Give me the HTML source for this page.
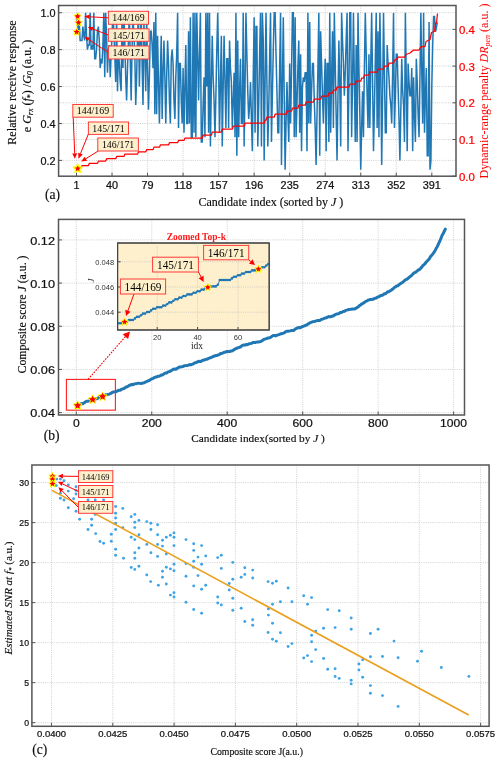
<!DOCTYPE html>
<html><head><meta charset="utf-8"><style>
html,body{margin:0;padding:0;background:#fff;}
svg{display:block;will-change:transform;}
</style></head><body>
<svg width="500" height="763" viewBox="0 0 500 763">
<rect width="500" height="763" fill="#fff"/>
<rect x="58.6" y="5.5" width="397.4" height="170.7" fill="#ffffff"/>
<line x1="58.60" y1="12.72" x2="456.00" y2="12.72" stroke="#c4c4c4" stroke-width="0.8" stroke-dasharray="1,1.2"/>
<line x1="58.60" y1="49.64" x2="456.00" y2="49.64" stroke="#c4c4c4" stroke-width="0.8" stroke-dasharray="1,1.2"/>
<line x1="58.60" y1="86.56" x2="456.00" y2="86.56" stroke="#c4c4c4" stroke-width="0.8" stroke-dasharray="1,1.2"/>
<line x1="58.60" y1="123.48" x2="456.00" y2="123.48" stroke="#c4c4c4" stroke-width="0.8" stroke-dasharray="1,1.2"/>
<line x1="58.60" y1="160.40" x2="456.00" y2="160.40" stroke="#c4c4c4" stroke-width="0.8" stroke-dasharray="1,1.2"/>
<line x1="58.60" y1="139.50" x2="456.00" y2="139.50" stroke="#c4c4c4" stroke-width="0.8" stroke-dasharray="1,1.2"/>
<line x1="58.60" y1="102.80" x2="456.00" y2="102.80" stroke="#c4c4c4" stroke-width="0.8" stroke-dasharray="1,1.2"/>
<line x1="58.60" y1="66.10" x2="456.00" y2="66.10" stroke="#c4c4c4" stroke-width="0.8" stroke-dasharray="1,1.2"/>
<line x1="58.60" y1="29.40" x2="456.00" y2="29.40" stroke="#c4c4c4" stroke-width="0.8" stroke-dasharray="1,1.2"/>
<line x1="76.50" y1="5.50" x2="76.50" y2="176.20" stroke="#c4c4c4" stroke-width="0.8" stroke-dasharray="1,1.2"/>
<line x1="112.03" y1="5.50" x2="112.03" y2="176.20" stroke="#c4c4c4" stroke-width="0.8" stroke-dasharray="1,1.2"/>
<line x1="147.56" y1="5.50" x2="147.56" y2="176.20" stroke="#c4c4c4" stroke-width="0.8" stroke-dasharray="1,1.2"/>
<line x1="183.09" y1="5.50" x2="183.09" y2="176.20" stroke="#c4c4c4" stroke-width="0.8" stroke-dasharray="1,1.2"/>
<line x1="218.62" y1="5.50" x2="218.62" y2="176.20" stroke="#c4c4c4" stroke-width="0.8" stroke-dasharray="1,1.2"/>
<line x1="254.15" y1="5.50" x2="254.15" y2="176.20" stroke="#c4c4c4" stroke-width="0.8" stroke-dasharray="1,1.2"/>
<line x1="289.68" y1="5.50" x2="289.68" y2="176.20" stroke="#c4c4c4" stroke-width="0.8" stroke-dasharray="1,1.2"/>
<line x1="325.21" y1="5.50" x2="325.21" y2="176.20" stroke="#c4c4c4" stroke-width="0.8" stroke-dasharray="1,1.2"/>
<line x1="360.74" y1="5.50" x2="360.74" y2="176.20" stroke="#c4c4c4" stroke-width="0.8" stroke-dasharray="1,1.2"/>
<line x1="396.27" y1="5.50" x2="396.27" y2="176.20" stroke="#c4c4c4" stroke-width="0.8" stroke-dasharray="1,1.2"/>
<line x1="431.80" y1="5.50" x2="431.80" y2="176.20" stroke="#c4c4c4" stroke-width="0.8" stroke-dasharray="1,1.2"/>
<polyline points="76.50,16.41 77.41,21.95 78.32,31.18 79.23,21.95 80.14,40.41 81.06,40.41 81.97,40.41 82.88,26.56 83.79,35.80 84.70,40.41 85.61,12.72 86.52,35.80 87.43,49.64 88.34,45.03 89.25,45.03 90.17,12.72 91.08,49.64 91.99,45.03 92.90,49.64 93.81,12.72 94.72,58.87 95.63,58.87 96.54,49.64 97.45,31.18 98.36,26.56 99.28,40.41 100.19,68.10 101.10,58.87 102.01,63.48 102.92,45.03 103.83,12.72 104.74,77.33 105.65,12.72 106.56,35.80 107.47,72.72 108.39,49.64 109.30,45.03 110.21,77.33 111.12,54.26 112.03,35.80 112.94,12.72 113.85,31.18 114.76,54.26 115.67,81.95 116.59,12.72 117.50,91.17 118.41,49.64 119.32,63.48 120.23,81.95 121.14,91.17 122.05,12.72 122.96,68.10 123.87,12.72 124.78,40.41 125.70,77.33 126.61,100.41 127.52,68.10 128.43,40.41 129.34,12.72 130.25,58.87 131.16,100.41 132.07,49.64 132.98,12.72 133.89,35.80 134.81,54.26 135.72,105.02 136.63,77.33 137.54,35.80 138.45,12.72 139.36,86.56 140.27,45.03 141.18,12.72 142.09,63.48 143.00,105.02 143.92,21.95 144.83,49.64 145.74,91.17 146.65,17.33 147.56,68.10 148.47,109.64 149.38,77.33 150.29,31.18 151.20,31.18 152.12,45.03 153.03,68.10 153.94,21.95 154.85,114.25 155.76,12.72 156.67,114.25 157.58,35.80 158.49,81.95 159.40,123.48 160.31,77.33 161.23,35.80 162.14,118.87 163.05,72.72 163.96,40.41 164.87,77.33 165.78,123.48 166.69,77.33 167.60,40.41 168.51,63.48 169.42,100.41 170.34,123.48 171.25,58.87 172.16,49.64 173.07,63.48 173.98,100.41 174.89,118.87 175.80,77.33 176.71,54.26 177.62,12.72 178.53,128.09 179.45,63.48 180.36,63.48 181.27,100.41 182.18,123.48 183.09,68.10 184.00,132.71 184.91,86.56 185.82,45.03 186.73,123.48 187.65,123.48 188.56,31.18 189.47,123.48 190.38,17.33 191.29,137.32 192.20,137.32 193.11,12.72 194.02,132.71 194.93,12.72 195.84,137.32 196.76,12.72 197.67,54.26 198.58,100.41 199.49,54.26 200.40,12.72 201.31,141.94 202.22,141.94 203.13,105.02 204.04,77.33 204.95,137.32 205.87,12.72 206.78,86.56 207.69,12.72 208.60,132.71 209.51,12.72 210.42,146.56 211.33,86.56 212.24,35.80 213.15,77.33 214.06,100.41 214.98,137.32 215.89,95.79 216.80,49.64 217.71,12.72 218.62,68.10 219.53,132.71 220.44,81.95 221.35,35.80 222.26,146.56 223.18,86.56 224.09,35.80 225.00,81.95 225.91,128.09 226.82,58.87 227.73,58.87 228.64,128.09 229.55,40.41 230.46,68.10 231.37,81.95 232.29,128.09 233.20,100.41 234.11,72.72 235.02,137.32 235.93,12.72 236.84,155.78 237.75,40.41 238.66,137.32 239.57,91.17 240.48,58.87 241.40,123.48 242.31,123.48 243.22,12.72 244.13,146.56 245.04,86.56 245.95,12.72 246.86,54.26 247.77,91.17 248.68,118.87 249.59,105.02 250.51,81.95 251.42,118.87 252.33,151.17 253.24,77.33 254.15,17.33 255.06,132.71 255.97,26.56 256.88,26.56 257.79,146.56 258.71,105.02 259.62,54.26 260.53,12.72 261.44,146.56 262.35,12.72 263.26,40.41 264.17,160.40 265.08,81.95 265.99,12.72 266.90,81.95 267.82,146.56 268.73,109.64 269.64,58.87 270.55,12.72 271.46,141.94 272.37,95.79 273.28,49.64 274.19,12.72 275.10,12.72 276.01,54.26 276.93,91.17 277.84,132.71 278.75,132.71 279.66,68.10 280.57,12.72 281.48,165.02 282.39,86.56 283.30,17.33 284.21,95.79 285.12,169.63 286.04,123.48 286.95,81.95 287.86,114.25 288.77,141.94 289.68,63.48 290.59,123.48 291.50,72.72 292.41,12.72 293.32,12.72 294.24,137.32 295.15,17.33 296.06,137.32 296.97,105.02 297.88,68.10 298.79,40.41 299.70,132.71 300.61,54.26 301.52,151.17 302.43,86.56 303.35,77.33 304.26,81.95 305.17,72.72 306.08,72.72 306.99,151.17 307.90,12.72 308.81,123.48 309.72,21.95 310.63,123.48 311.54,91.17 312.46,63.48 313.37,63.48 314.28,100.41 315.19,128.09 316.10,165.02 317.01,114.25 317.92,68.10 318.83,12.72 319.74,155.78 320.65,31.18 321.57,63.48 322.48,95.79 323.39,123.48 324.30,86.56 325.21,58.87 326.12,151.17 327.03,63.48 327.94,63.48 328.85,141.94 329.77,12.72 330.68,132.71 331.59,77.33 332.50,31.18 333.41,128.09 334.32,12.72 335.23,63.48 336.14,114.25 337.05,160.40 337.96,95.79 338.88,40.41 339.79,86.56 340.70,146.56 341.61,12.72 342.52,40.41 343.43,63.48 344.34,95.79 345.25,72.72 346.16,40.41 347.07,12.72 347.99,151.17 348.90,86.56 349.81,12.72 350.72,12.72 351.63,137.32 352.54,81.95 353.45,12.72 354.36,81.95 355.27,141.94 356.18,45.03 357.10,141.94 358.01,12.72 358.92,68.10 359.83,114.25 360.74,169.63 361.65,128.09 362.56,91.17 363.47,137.32 364.38,68.10 365.30,12.72 366.21,54.26 367.12,95.79 368.03,128.09 368.94,54.26 369.85,128.09 370.76,63.48 371.67,12.72 372.58,81.95 373.49,151.17 374.41,109.64 375.32,58.87 376.23,12.72 377.14,128.09 378.05,31.18 378.96,137.32 379.87,12.72 380.78,68.10 381.69,165.02 382.60,95.79 383.52,12.72 384.43,72.72 385.34,132.71 386.25,132.71 387.16,45.03 388.07,63.48 388.98,77.33 389.89,95.79 390.80,105.02 391.71,123.48 392.63,72.72 393.54,12.72 394.45,128.09 395.36,95.79 396.27,54.26 397.18,54.26 398.09,86.56 399.00,118.87 399.91,160.40 400.83,109.64 401.74,58.87 402.65,91.17 403.56,105.02 404.47,141.94 405.38,12.72 406.29,81.95 407.20,151.17 408.11,63.48 409.02,81.95 409.94,95.79 410.85,95.79 411.76,68.10 412.67,151.17 413.58,77.33 414.49,114.25 415.40,141.94 416.31,58.87 417.22,81.95 418.13,114.25 419.05,137.32 419.96,77.33 420.87,12.72 421.78,72.72 422.69,123.48 423.60,12.72 424.51,132.71 425.42,95.79 426.33,68.10 427.24,155.78 428.16,155.78 429.07,21.95 429.98,169.63 430.89,160.40 431.80,86.56 432.71,43.55 433.62,16.41 434.53,16.41 435.44,31.92 436.36,27.49 437.27,22.50" fill="none" stroke="#1f77b4" stroke-width="1.5" stroke-linejoin="miter" stroke-miterlimit="2"/>
<polyline points="77.50,167.90 78.41,167.90 79.32,167.90 80.23,167.90 81.14,167.90 82.06,165.60 82.97,165.60 83.88,165.60 84.79,165.60 85.70,165.60 86.61,165.60 87.52,165.60 88.43,165.60 89.34,163.30 90.25,163.30 91.17,163.30 92.08,163.30 92.99,163.30 93.90,163.30 94.81,163.30 95.72,163.30 96.63,163.30 97.54,163.30 98.45,161.00 99.36,161.00 100.28,161.00 101.19,161.00 102.10,161.00 103.01,161.00 103.92,161.00 104.83,161.00 105.74,161.00 106.65,158.70 107.56,158.70 108.47,158.70 109.39,158.70 110.30,158.70 111.21,158.70 112.12,158.70 113.03,158.70 113.94,158.70 114.85,158.70 115.76,158.70 116.67,156.40 117.58,156.40 118.50,156.40 119.41,156.40 120.32,156.40 121.23,156.40 122.14,156.40 123.05,156.40 123.96,156.40 124.87,154.10 125.78,154.10 126.69,154.10 127.61,154.10 128.52,154.10 129.43,154.10 130.34,154.10 131.25,154.10 132.16,154.10 133.07,154.10 133.98,154.10 134.89,154.10 135.80,154.10 136.72,154.10 137.63,154.10 138.54,151.80 139.45,151.80 140.36,151.80 141.27,151.80 142.18,151.80 143.09,151.80 144.00,151.80 144.91,151.80 145.82,151.80 146.74,149.50 147.65,149.50 148.56,149.50 149.47,149.50 150.38,149.50 151.29,149.50 152.20,149.50 153.11,149.50 154.02,147.20 154.94,147.20 155.85,147.20 156.76,147.20 157.67,147.20 158.58,147.20 159.49,147.20 160.40,144.90 161.31,144.90 162.22,144.90 163.13,144.90 164.05,144.90 164.96,144.90 165.87,144.90 166.78,144.90 167.69,144.90 168.60,144.90 169.51,142.60 170.42,142.60 171.33,142.60 172.24,142.60 173.16,142.60 174.07,142.60 174.98,142.60 175.89,142.60 176.80,142.60 177.71,142.60 178.62,140.30 179.53,140.30 180.44,140.30 181.35,140.30 182.26,140.30 183.18,140.30 184.09,140.30 185.00,138.00 185.91,138.00 186.82,138.00 187.73,138.00 188.64,138.00 189.55,138.00 190.46,138.00 191.38,138.00 192.29,138.00 193.20,138.00 194.11,138.00 195.02,138.00 195.93,138.00 196.84,138.00 197.75,138.00 198.66,138.00 199.57,138.00 200.49,138.00 201.40,138.00 202.31,138.00 203.22,135.00 204.13,135.00 205.04,135.00 205.95,135.00 206.86,135.00 207.77,135.00 208.68,135.00 209.59,135.00 210.51,135.00 211.42,135.00 212.33,132.00 213.24,132.00 214.15,132.00 215.06,132.00 215.97,132.00 216.88,132.00 217.79,132.00 218.71,132.00 219.62,132.00 220.53,132.00 221.44,132.00 222.35,129.00 223.26,129.00 224.17,129.00 225.08,129.00 225.99,129.00 226.90,129.00 227.81,129.00 228.73,129.00 229.64,129.00 230.55,129.00 231.46,129.00 232.37,129.00 233.28,126.00 234.19,126.00 235.10,126.00 236.01,126.00 236.93,126.00 237.84,126.00 238.75,126.00 239.66,126.00 240.57,126.00 241.48,126.00 242.39,126.00 243.30,126.00 244.21,126.00 245.12,123.00 246.03,123.00 246.95,123.00 247.86,123.00 248.77,123.00 249.68,123.00 250.59,123.00 251.50,123.00 252.41,123.00 253.32,123.00 254.23,123.00 255.15,123.00 256.06,123.00 256.97,123.00 257.88,123.00 258.79,123.00 259.70,123.00 260.61,123.00 261.52,123.00 262.43,123.00 263.34,123.00 264.25,123.00 265.17,120.00 266.08,120.00 266.99,117.00 267.90,117.00 268.81,117.00 269.72,117.00 270.63,117.00 271.54,117.00 272.45,117.00 273.37,117.00 274.28,117.00 275.19,114.00 276.10,114.00 277.01,114.00 277.92,114.00 278.83,114.00 279.74,114.00 280.65,114.00 281.56,114.00 282.48,114.00 283.39,114.00 284.30,114.00 285.21,114.00 286.12,114.00 287.03,111.00 287.94,111.00 288.85,111.00 289.76,111.00 290.67,111.00 291.59,111.00 292.50,108.00 293.41,108.00 294.32,108.00 295.23,108.00 296.14,108.00 297.05,108.00 297.96,108.00 298.87,105.00 299.78,105.00 300.70,105.00 301.61,105.00 302.52,105.00 303.43,105.00 304.34,105.00 305.25,105.00 306.16,102.00 307.07,102.00 307.98,102.00 308.89,102.00 309.81,102.00 310.72,102.00 311.63,102.00 312.54,102.00 313.45,102.00 314.36,99.00 315.27,99.00 316.18,99.00 317.09,99.00 318.00,99.00 318.92,99.00 319.83,99.00 320.74,99.00 321.65,96.00 322.56,96.00 323.47,96.00 324.38,96.00 325.29,96.00 326.20,96.00 327.11,96.00 328.02,96.00 328.94,93.00 329.85,93.00 330.76,93.00 331.67,93.00 332.58,93.00 333.49,90.00 334.40,90.00 335.31,90.00 336.22,90.00 337.13,87.00 338.05,87.00 338.96,87.00 339.87,87.00 340.78,87.00 341.69,87.00 342.60,87.00 343.51,87.00 344.42,87.00 345.33,87.00 346.25,87.00 347.16,87.00 348.07,87.00 348.98,87.00 349.89,84.00 350.80,84.00 351.71,84.00 352.62,84.00 353.53,84.00 354.44,84.00 355.36,84.00 356.27,81.00 357.18,81.00 358.09,81.00 359.00,81.00 359.91,81.00 360.82,81.00 361.73,78.00 362.64,78.00 363.55,78.00 364.47,75.00 365.38,75.00 366.29,75.00 367.20,75.00 368.11,75.00 369.02,75.00 369.93,72.00 370.84,72.00 371.75,72.00 372.66,72.00 373.57,72.00 374.49,72.00 375.40,72.00 376.31,72.00 377.22,72.00 378.13,69.00 379.04,69.00 379.95,69.00 380.86,69.00 381.77,69.00 382.69,69.00 383.60,69.00 384.51,66.00 385.42,66.00 386.33,66.00 387.24,66.00 388.15,66.00 389.06,63.00 389.97,63.00 390.88,63.00 391.80,63.00 392.71,63.00 393.62,63.00 394.53,60.00 395.44,60.00 398.50,57.00 405.00,57.00 406.00,54.50 410.00,53.00 413.50,50.00 419.00,50.00 421.00,46.50 425.00,46.50 426.00,41.50 430.00,39.50 431.50,32.50 434.50,31.20 435.50,23.00 436.50,23.00 437.50,13.50" fill="none" stroke="#ff0000" stroke-width="1.25" stroke-linejoin="round"/>
<rect x="58.60" y="5.50" width="397.40" height="170.70" fill="none" stroke="#555555" stroke-width="1.5"/>
<line x1="58.60" y1="12.72" x2="62.10" y2="12.72" stroke="#555555" stroke-width="1.0"/>
<line x1="58.60" y1="49.64" x2="62.10" y2="49.64" stroke="#555555" stroke-width="1.0"/>
<line x1="58.60" y1="86.56" x2="62.10" y2="86.56" stroke="#555555" stroke-width="1.0"/>
<line x1="58.60" y1="123.48" x2="62.10" y2="123.48" stroke="#555555" stroke-width="1.0"/>
<line x1="58.60" y1="160.40" x2="62.10" y2="160.40" stroke="#555555" stroke-width="1.0"/>
<line x1="452.50" y1="176.20" x2="456.00" y2="176.20" stroke="#555555" stroke-width="1.0"/>
<line x1="452.50" y1="139.50" x2="456.00" y2="139.50" stroke="#555555" stroke-width="1.0"/>
<line x1="452.50" y1="102.80" x2="456.00" y2="102.80" stroke="#555555" stroke-width="1.0"/>
<line x1="452.50" y1="66.10" x2="456.00" y2="66.10" stroke="#555555" stroke-width="1.0"/>
<line x1="452.50" y1="29.40" x2="456.00" y2="29.40" stroke="#555555" stroke-width="1.0"/>
<line x1="76.50" y1="176.20" x2="76.50" y2="172.70" stroke="#555555" stroke-width="1.0"/>
<line x1="112.03" y1="176.20" x2="112.03" y2="172.70" stroke="#555555" stroke-width="1.0"/>
<line x1="147.56" y1="176.20" x2="147.56" y2="172.70" stroke="#555555" stroke-width="1.0"/>
<line x1="183.09" y1="176.20" x2="183.09" y2="172.70" stroke="#555555" stroke-width="1.0"/>
<line x1="218.62" y1="176.20" x2="218.62" y2="172.70" stroke="#555555" stroke-width="1.0"/>
<line x1="254.15" y1="176.20" x2="254.15" y2="172.70" stroke="#555555" stroke-width="1.0"/>
<line x1="289.68" y1="176.20" x2="289.68" y2="172.70" stroke="#555555" stroke-width="1.0"/>
<line x1="325.21" y1="176.20" x2="325.21" y2="172.70" stroke="#555555" stroke-width="1.0"/>
<line x1="360.74" y1="176.20" x2="360.74" y2="172.70" stroke="#555555" stroke-width="1.0"/>
<line x1="396.27" y1="176.20" x2="396.27" y2="172.70" stroke="#555555" stroke-width="1.0"/>
<line x1="431.80" y1="176.20" x2="431.80" y2="172.70" stroke="#555555" stroke-width="1.0"/>
<text x="55.60" y="17.07" font-size="10" text-anchor="end" fill="#111111" stroke="#111111" stroke-width="0.22" font-family='"Liberation Sans", sans-serif' textLength="15.10" lengthAdjust="spacingAndGlyphs" >1.0</text>
<text x="55.60" y="53.99" font-size="10" text-anchor="end" fill="#111111" stroke="#111111" stroke-width="0.22" font-family='"Liberation Sans", sans-serif' textLength="15.10" lengthAdjust="spacingAndGlyphs" >0.8</text>
<text x="55.60" y="90.91" font-size="10" text-anchor="end" fill="#111111" stroke="#111111" stroke-width="0.22" font-family='"Liberation Sans", sans-serif' textLength="15.10" lengthAdjust="spacingAndGlyphs" >0.6</text>
<text x="55.60" y="127.83" font-size="10" text-anchor="end" fill="#111111" stroke="#111111" stroke-width="0.22" font-family='"Liberation Sans", sans-serif' textLength="15.10" lengthAdjust="spacingAndGlyphs" >0.4</text>
<text x="55.60" y="164.75" font-size="10" text-anchor="end" fill="#111111" stroke="#111111" stroke-width="0.22" font-family='"Liberation Sans", sans-serif' textLength="15.10" lengthAdjust="spacingAndGlyphs" >0.2</text>
<text x="76.50" y="188.55" font-size="10" text-anchor="middle" fill="#111111" stroke="#111111" stroke-width="0.22" font-family='"Liberation Sans", sans-serif' textLength="6.04" lengthAdjust="spacingAndGlyphs" >1</text>
<text x="112.03" y="188.55" font-size="10" text-anchor="middle" fill="#111111" stroke="#111111" stroke-width="0.22" font-family='"Liberation Sans", sans-serif' textLength="12.08" lengthAdjust="spacingAndGlyphs" >40</text>
<text x="147.56" y="188.55" font-size="10" text-anchor="middle" fill="#111111" stroke="#111111" stroke-width="0.22" font-family='"Liberation Sans", sans-serif' textLength="12.08" lengthAdjust="spacingAndGlyphs" >79</text>
<text x="183.09" y="188.55" font-size="10" text-anchor="middle" fill="#111111" stroke="#111111" stroke-width="0.22" font-family='"Liberation Sans", sans-serif' textLength="18.13" lengthAdjust="spacingAndGlyphs" >118</text>
<text x="218.62" y="188.55" font-size="10" text-anchor="middle" fill="#111111" stroke="#111111" stroke-width="0.22" font-family='"Liberation Sans", sans-serif' textLength="18.13" lengthAdjust="spacingAndGlyphs" >157</text>
<text x="254.15" y="188.55" font-size="10" text-anchor="middle" fill="#111111" stroke="#111111" stroke-width="0.22" font-family='"Liberation Sans", sans-serif' textLength="18.13" lengthAdjust="spacingAndGlyphs" >196</text>
<text x="289.68" y="188.55" font-size="10" text-anchor="middle" fill="#111111" stroke="#111111" stroke-width="0.22" font-family='"Liberation Sans", sans-serif' textLength="18.13" lengthAdjust="spacingAndGlyphs" >235</text>
<text x="325.21" y="188.55" font-size="10" text-anchor="middle" fill="#111111" stroke="#111111" stroke-width="0.22" font-family='"Liberation Sans", sans-serif' textLength="18.13" lengthAdjust="spacingAndGlyphs" >274</text>
<text x="360.74" y="188.55" font-size="10" text-anchor="middle" fill="#111111" stroke="#111111" stroke-width="0.22" font-family='"Liberation Sans", sans-serif' textLength="18.13" lengthAdjust="spacingAndGlyphs" >313</text>
<text x="396.27" y="188.55" font-size="10" text-anchor="middle" fill="#111111" stroke="#111111" stroke-width="0.22" font-family='"Liberation Sans", sans-serif' textLength="18.13" lengthAdjust="spacingAndGlyphs" >352</text>
<text x="431.80" y="188.55" font-size="10" text-anchor="middle" fill="#111111" stroke="#111111" stroke-width="0.22" font-family='"Liberation Sans", sans-serif' textLength="18.13" lengthAdjust="spacingAndGlyphs" >391</text>
<text x="459.00" y="180.62" font-size="10.2" text-anchor="start" fill="#ff0000" stroke="#ff0000" stroke-width="0.22" font-family='"Liberation Sans", sans-serif' textLength="15.90" lengthAdjust="spacingAndGlyphs" >0.0</text>
<text x="459.00" y="143.92" font-size="10.2" text-anchor="start" fill="#ff0000" stroke="#ff0000" stroke-width="0.22" font-family='"Liberation Sans", sans-serif' textLength="15.90" lengthAdjust="spacingAndGlyphs" >0.1</text>
<text x="459.00" y="107.22" font-size="10.2" text-anchor="start" fill="#ff0000" stroke="#ff0000" stroke-width="0.22" font-family='"Liberation Sans", sans-serif' textLength="15.90" lengthAdjust="spacingAndGlyphs" >0.2</text>
<text x="459.00" y="70.52" font-size="10.2" text-anchor="start" fill="#ff0000" stroke="#ff0000" stroke-width="0.22" font-family='"Liberation Sans", sans-serif' textLength="15.90" lengthAdjust="spacingAndGlyphs" >0.3</text>
<text x="459.00" y="33.82" font-size="10.2" text-anchor="start" fill="#ff0000" stroke="#ff0000" stroke-width="0.22" font-family='"Liberation Sans", sans-serif' textLength="15.90" lengthAdjust="spacingAndGlyphs" >0.4</text>
<polygon points="77.60,12.40 78.78,14.78 81.40,15.16 79.50,17.02 79.95,19.64 77.60,18.40 75.25,19.64 75.70,17.02 73.80,15.16 76.42,14.78" fill="red" stroke="yellow" stroke-width="1.0" stroke-linejoin="round"/>
<polygon points="78.50,18.70 79.68,21.08 82.30,21.46 80.40,23.32 80.85,25.94 78.50,24.70 76.15,25.94 76.60,23.32 74.70,21.46 77.32,21.08" fill="red" stroke="yellow" stroke-width="1.0" stroke-linejoin="round"/>
<polygon points="76.70,28.00 77.88,30.38 80.50,30.76 78.60,32.62 79.05,35.24 76.70,34.00 74.35,35.24 74.80,32.62 72.90,30.76 75.52,30.38" fill="red" stroke="yellow" stroke-width="1.0" stroke-linejoin="round"/>
<line x1="108.40" y1="17.80" x2="89.69" y2="16.80" stroke="red" stroke-width="1.0"/>
<polygon points="84.20,16.50 89.81,14.60 89.57,18.99" fill="red"/>
<line x1="108.40" y1="35.00" x2="92.83" y2="28.98" stroke="red" stroke-width="1.0"/>
<polygon points="87.70,27.00 93.62,26.93 92.04,31.03" fill="red"/>
<line x1="108.40" y1="52.50" x2="88.79" y2="39.53" stroke="red" stroke-width="1.0"/>
<polygon points="84.20,36.50 90.00,37.70 87.57,41.37" fill="red"/>
<rect x="108.40" y="11.30" width="40.10" height="13.00" fill="#FEEFCA" fill-opacity="0.96" stroke="#ff3b3b" stroke-width="1"/>
<text x="128.45" y="21.37" font-size="10.5" text-anchor="middle" fill="#000000" font-family='"Liberation Serif", serif' textLength="32.35" lengthAdjust="spacingAndGlyphs">144/169</text>
<rect x="108.40" y="28.80" width="40.60" height="12.50" fill="#FEEFCA" fill-opacity="0.96" stroke="#ff3b3b" stroke-width="1"/>
<text x="128.70" y="38.62" font-size="10.5" text-anchor="middle" fill="#000000" font-family='"Liberation Serif", serif' textLength="32.35" lengthAdjust="spacingAndGlyphs">145/171</text>
<rect x="108.40" y="46.00" width="40.60" height="13.00" fill="#FEEFCA" fill-opacity="0.96" stroke="#ff3b3b" stroke-width="1"/>
<text x="128.70" y="56.07" font-size="10.5" text-anchor="middle" fill="#000000" font-family='"Liberation Serif", serif' textLength="32.35" lengthAdjust="spacingAndGlyphs">146/171</text>
<polygon points="77.70,164.00 79.05,166.74 82.07,167.18 79.89,169.31 80.40,172.32 77.70,170.90 75.00,172.32 75.51,169.31 73.33,167.18 76.35,166.74" fill="red" stroke="yellow" stroke-width="1.3" stroke-linejoin="round"/>
<line x1="73.20" y1="117.20" x2="74.68" y2="153.30" stroke="red" stroke-width="1.0"/>
<polygon points="74.90,158.80 72.28,153.40 77.07,153.21" fill="red"/>
<line x1="88.40" y1="134.00" x2="80.46" y2="153.70" stroke="red" stroke-width="1.0"/>
<polygon points="78.40,158.80 78.23,152.80 82.68,154.60" fill="red"/>
<line x1="98.20" y1="151.00" x2="85.87" y2="158.69" stroke="red" stroke-width="1.0"/>
<polygon points="81.20,161.60 84.60,156.65 87.14,160.73" fill="red"/>
<rect x="72.80" y="104.50" width="40.40" height="12.70" fill="#FEEFCA" fill-opacity="0.96" stroke="#ff3b3b" stroke-width="1"/>
<text x="93.00" y="114.42" font-size="10.5" text-anchor="middle" fill="#000000" font-family='"Liberation Serif", serif' textLength="32.35" lengthAdjust="spacingAndGlyphs">144/169</text>
<rect x="88.40" y="122.00" width="40.10" height="12.40" fill="#FEEFCA" fill-opacity="0.96" stroke="#ff3b3b" stroke-width="1"/>
<text x="108.45" y="131.77" font-size="10.5" text-anchor="middle" fill="#000000" font-family='"Liberation Serif", serif' textLength="32.35" lengthAdjust="spacingAndGlyphs">145/171</text>
<rect x="97.80" y="138.00" width="40.60" height="13.00" fill="#FEEFCA" fill-opacity="0.96" stroke="#ff3b3b" stroke-width="1"/>
<text x="118.10" y="148.07" font-size="10.5" text-anchor="middle" fill="#000000" font-family='"Liberation Serif", serif' textLength="32.35" lengthAdjust="spacingAndGlyphs">146/171</text>
<text x="52.6" y="199.2" font-size="13.6" text-anchor="middle" fill="#0d0d0d" stroke="#0d0d0d" stroke-width="0.15" font-family='"Liberation Serif", serif'>(a)</text>
<text x="198.4" y="206.2" font-size="12" fill="#0d0d0d" stroke="#0d0d0d" stroke-width="0.15" font-family='"Liberation Serif", serif'>Candidate index (sorted by <tspan font-style="italic">J</tspan> )</text>
<text transform="translate(16.0,82.5) rotate(-90)" font-size="12.2" text-anchor="middle" fill="#0d0d0d" stroke="#0d0d0d" stroke-width="0.15" font-family='"Liberation Serif", serif'>Relative receive response</text>
<text transform="translate(31.4,86) rotate(-90)" font-size="12" text-anchor="middle" fill="#0d0d0d" stroke="#0d0d0d" stroke-width="0.15" font-family='"Liberation Serif", serif'>e <tspan font-style="italic">G</tspan><tspan font-style="italic" font-size="8" dy="2">rx</tspan><tspan dy="-2"> (</tspan><tspan font-style="italic">f</tspan><tspan font-size="8" dy="2">*</tspan><tspan dy="-2">) /</tspan><tspan font-style="italic">G</tspan><tspan font-style="italic" font-size="8" dy="2">0</tspan><tspan dy="-2"> (a.u. )</tspan></text>
<text transform="translate(487.8,91) rotate(-90)" font-size="12" text-anchor="middle" fill="#ff0000" font-family='"Liberation Serif", serif'>Dynamic-range penalty <tspan font-style="italic">DR</tspan><tspan font-style="italic" font-size="8" dy="2">pen</tspan><tspan dy="-2"> (a.u. )</tspan></text>
<rect x="58.5" y="219.4" width="406.0" height="195.6" fill="#ffffff"/>
<line x1="58.50" y1="412.60" x2="464.50" y2="412.60" stroke="#c4c4c4" stroke-width="0.8" stroke-dasharray="1,1.2"/>
<line x1="58.50" y1="369.43" x2="464.50" y2="369.43" stroke="#c4c4c4" stroke-width="0.8" stroke-dasharray="1,1.2"/>
<line x1="58.50" y1="326.26" x2="464.50" y2="326.26" stroke="#c4c4c4" stroke-width="0.8" stroke-dasharray="1,1.2"/>
<line x1="58.50" y1="283.09" x2="464.50" y2="283.09" stroke="#c4c4c4" stroke-width="0.8" stroke-dasharray="1,1.2"/>
<line x1="58.50" y1="239.92" x2="464.50" y2="239.92" stroke="#c4c4c4" stroke-width="0.8" stroke-dasharray="1,1.2"/>
<line x1="76.30" y1="219.40" x2="76.30" y2="415.00" stroke="#c4c4c4" stroke-width="0.8" stroke-dasharray="1,1.2"/>
<line x1="151.76" y1="219.40" x2="151.76" y2="415.00" stroke="#c4c4c4" stroke-width="0.8" stroke-dasharray="1,1.2"/>
<line x1="227.22" y1="219.40" x2="227.22" y2="415.00" stroke="#c4c4c4" stroke-width="0.8" stroke-dasharray="1,1.2"/>
<line x1="302.68" y1="219.40" x2="302.68" y2="415.00" stroke="#c4c4c4" stroke-width="0.8" stroke-dasharray="1,1.2"/>
<line x1="378.14" y1="219.40" x2="378.14" y2="415.00" stroke="#c4c4c4" stroke-width="0.8" stroke-dasharray="1,1.2"/>
<line x1="453.60" y1="219.40" x2="453.60" y2="415.00" stroke="#c4c4c4" stroke-width="0.8" stroke-dasharray="1,1.2"/>
<polyline points="76.30,406.17 77.43,405.81 78.56,405.16 79.70,404.97 80.83,403.87 81.96,403.51 83.09,403.75 84.22,402.75 85.36,401.92 86.49,401.20 87.62,401.15 88.75,400.99 89.88,400.74 91.01,400.85 92.15,399.86 93.28,399.32 94.41,399.40 95.54,398.68 96.67,398.85 97.81,398.17 98.94,397.54 100.07,397.59 101.20,396.60 102.33,396.11 103.47,395.67 104.60,395.41 105.73,394.69 106.86,394.81 107.99,394.38 109.13,394.25 110.26,393.70 111.39,393.21 112.52,392.21 113.65,391.94 114.78,391.86 115.92,391.75 117.05,391.15 118.18,390.51 119.31,390.27 120.44,390.29 121.58,389.12 122.71,388.91 123.84,388.53 124.97,387.85 126.10,387.05 127.24,386.77 128.37,386.08 129.50,385.28 130.63,384.81 131.76,384.50 132.89,384.65 134.03,383.89 135.16,383.83 136.29,383.65 137.42,383.39 138.55,383.17 139.69,383.38 140.82,383.49 141.95,383.25 143.08,383.04 144.21,382.75 145.35,382.08 146.48,381.58 147.61,381.17 148.74,380.62 149.87,380.07 151.01,379.26 152.14,378.71 153.27,378.35 154.40,377.58 155.53,377.06 156.66,376.94 157.80,376.24 158.93,376.20 160.06,375.83 161.19,374.95 162.32,374.99 163.46,374.29 164.59,373.43 165.72,373.04 166.85,373.01 167.98,371.90 169.12,371.59 170.25,371.29 171.38,370.36 172.51,369.82 173.64,369.17 174.78,369.07 175.91,369.26 177.04,368.38 178.17,367.85 179.30,367.08 180.43,366.98 181.57,366.85 182.70,366.62 183.83,365.96 184.96,365.70 186.09,365.62 187.23,365.44 188.36,365.10 189.49,364.61 190.62,364.93 191.75,364.37 192.89,364.13 194.02,363.33 195.15,362.72 196.28,362.46 197.41,362.00 198.55,361.30 199.68,361.50 200.81,361.56 201.94,360.61 203.07,360.26 204.20,360.03 205.34,359.56 206.47,359.31 207.60,359.05 208.73,358.31 209.86,357.88 211.00,357.51 212.13,357.13 213.26,356.34 214.39,356.25 215.52,355.55 216.66,355.58 217.79,354.94 218.92,354.77 220.05,353.77 221.18,353.45 222.32,353.20 223.45,352.60 224.58,352.24 225.71,351.96 226.84,351.51 227.97,351.65 229.11,351.33 230.24,351.44 231.37,350.91 232.50,350.72 233.63,349.88 234.77,349.19 235.90,348.60 237.03,347.91 238.16,347.74 239.29,347.31 240.43,347.10 241.56,345.93 242.69,345.47 243.82,344.91 244.95,345.12 246.08,344.55 247.22,344.70 248.35,344.24 249.48,343.63 250.61,343.48 251.74,343.23 252.88,342.56 254.01,342.49 255.14,342.57 256.27,342.14 257.40,341.94 258.54,341.94 259.67,341.66 260.80,341.47 261.93,340.97 263.06,339.94 264.20,339.17 265.33,338.93 266.46,338.55 267.59,338.05 268.72,338.06 269.85,337.60 270.99,337.16 272.12,336.22 273.25,335.49 274.38,335.57 275.51,335.88 276.65,335.41 277.78,334.92 278.91,334.56 280.04,334.11 281.17,333.77 282.31,333.44 283.44,333.15 284.57,332.67 285.70,331.62 286.83,331.32 287.97,331.16 289.10,331.10 290.23,330.87 291.36,330.55 292.49,330.43 293.62,330.39 294.76,329.61 295.89,328.69 297.02,328.19 298.15,327.71 299.28,327.46 300.42,327.67 301.55,326.94 302.68,326.52 303.81,325.99 304.94,325.73 306.08,325.14 307.21,324.73 308.34,323.76 309.47,323.20 310.60,322.46 311.74,322.16 312.87,321.62 314.00,321.47 315.13,321.28 316.26,320.91 317.39,320.60 318.53,320.56 319.66,320.62 320.79,319.77 321.92,319.12 323.05,319.00 324.19,318.47 325.32,317.89 326.45,317.80 327.58,317.03 328.71,316.56 329.85,316.71 330.98,316.71 332.11,316.09 333.24,316.02 334.37,315.11 335.51,314.42 336.64,314.06 337.77,313.85 338.90,313.55 340.03,312.61 341.16,312.54 342.30,311.97 343.43,311.42 344.56,311.19 345.69,310.39 346.82,310.11 347.96,309.77 349.09,309.38 350.22,309.34 351.35,309.16 352.48,309.01 353.62,308.91 354.75,308.93 355.88,308.39 357.01,307.56 358.14,307.00 359.28,305.73 360.41,305.23 361.54,304.00 362.67,303.55 363.80,302.85 364.93,302.08 366.07,301.17 367.20,300.84 368.33,299.96 369.46,299.76 370.59,299.49 371.73,299.49 372.86,299.32 373.99,298.68 375.12,298.31 376.25,298.00 377.39,297.09 378.52,296.78 379.65,296.28 380.78,295.42 381.91,295.38 383.04,294.87 384.18,293.83 385.31,293.78 386.44,292.80 387.57,291.86 388.70,291.74 389.84,290.98 390.97,290.41 392.10,289.52 393.23,288.68 394.36,287.54 395.50,286.95 396.63,286.04 397.76,285.82 398.89,284.71 400.02,283.96 401.16,283.21 402.29,282.50 403.42,281.56 404.55,280.54 405.68,279.61 406.81,279.26 407.95,278.54 409.08,277.35 410.21,276.54 411.34,275.68 412.47,274.46 413.61,273.23 414.74,272.51 415.87,272.03 417.00,271.16 418.13,269.91 419.27,269.69 420.40,268.57 421.53,267.38 422.66,265.78 423.79,264.91 424.93,263.74 426.06,262.23 427.19,261.06 428.32,259.94 429.45,258.59 430.58,256.51 431.72,255.22 432.85,253.98 433.98,252.44 435.11,250.49 436.24,248.32 437.38,246.47 438.51,243.87 439.64,241.51 440.77,238.94 441.90,235.69 443.04,233.92 444.17,231.51 445.30,229.11" fill="none" stroke="#1f77b4" stroke-width="3.0" stroke-linejoin="round" stroke-linecap="round"/>
<rect x="58.50" y="219.40" width="406.00" height="195.60" fill="none" stroke="#555555" stroke-width="1.5"/>
<line x1="58.50" y1="412.60" x2="62.00" y2="412.60" stroke="#555555" stroke-width="1.0"/>
<line x1="58.50" y1="369.43" x2="62.00" y2="369.43" stroke="#555555" stroke-width="1.0"/>
<line x1="58.50" y1="326.26" x2="62.00" y2="326.26" stroke="#555555" stroke-width="1.0"/>
<line x1="58.50" y1="283.09" x2="62.00" y2="283.09" stroke="#555555" stroke-width="1.0"/>
<line x1="58.50" y1="239.92" x2="62.00" y2="239.92" stroke="#555555" stroke-width="1.0"/>
<line x1="76.30" y1="415.00" x2="76.30" y2="411.50" stroke="#555555" stroke-width="1.0"/>
<line x1="151.76" y1="415.00" x2="151.76" y2="411.50" stroke="#555555" stroke-width="1.0"/>
<line x1="227.22" y1="415.00" x2="227.22" y2="411.50" stroke="#555555" stroke-width="1.0"/>
<line x1="302.68" y1="415.00" x2="302.68" y2="411.50" stroke="#555555" stroke-width="1.0"/>
<line x1="378.14" y1="415.00" x2="378.14" y2="411.50" stroke="#555555" stroke-width="1.0"/>
<line x1="453.60" y1="415.00" x2="453.60" y2="411.50" stroke="#555555" stroke-width="1.0"/>
<text x="55.00" y="417.31" font-size="11" text-anchor="end" fill="#111111" stroke="#111111" stroke-width="0.22" font-family='"Liberation Sans", sans-serif' textLength="24.71" lengthAdjust="spacingAndGlyphs" >0.04</text>
<text x="55.00" y="374.13" font-size="11" text-anchor="end" fill="#111111" stroke="#111111" stroke-width="0.22" font-family='"Liberation Sans", sans-serif' textLength="24.71" lengthAdjust="spacingAndGlyphs" >0.06</text>
<text x="55.00" y="330.96" font-size="11" text-anchor="end" fill="#111111" stroke="#111111" stroke-width="0.22" font-family='"Liberation Sans", sans-serif' textLength="24.71" lengthAdjust="spacingAndGlyphs" >0.08</text>
<text x="55.00" y="287.80" font-size="11" text-anchor="end" fill="#111111" stroke="#111111" stroke-width="0.22" font-family='"Liberation Sans", sans-serif' textLength="24.71" lengthAdjust="spacingAndGlyphs" >0.10</text>
<text x="55.00" y="244.63" font-size="11" text-anchor="end" fill="#111111" stroke="#111111" stroke-width="0.22" font-family='"Liberation Sans", sans-serif' textLength="24.71" lengthAdjust="spacingAndGlyphs" >0.12</text>
<text x="76.30" y="427.10" font-size="11" text-anchor="middle" fill="#111111" stroke="#111111" stroke-width="0.22" font-family='"Liberation Sans", sans-serif' textLength="6.74" lengthAdjust="spacingAndGlyphs" >0</text>
<text x="151.76" y="427.10" font-size="11" text-anchor="middle" fill="#111111" stroke="#111111" stroke-width="0.22" font-family='"Liberation Sans", sans-serif' textLength="20.22" lengthAdjust="spacingAndGlyphs" >200</text>
<text x="227.22" y="427.10" font-size="11" text-anchor="middle" fill="#111111" stroke="#111111" stroke-width="0.22" font-family='"Liberation Sans", sans-serif' textLength="20.22" lengthAdjust="spacingAndGlyphs" >400</text>
<text x="302.68" y="427.10" font-size="11" text-anchor="middle" fill="#111111" stroke="#111111" stroke-width="0.22" font-family='"Liberation Sans", sans-serif' textLength="20.22" lengthAdjust="spacingAndGlyphs" >600</text>
<text x="378.14" y="427.10" font-size="11" text-anchor="middle" fill="#111111" stroke="#111111" stroke-width="0.22" font-family='"Liberation Sans", sans-serif' textLength="20.22" lengthAdjust="spacingAndGlyphs" >800</text>
<text x="453.60" y="427.10" font-size="11" text-anchor="middle" fill="#111111" stroke="#111111" stroke-width="0.22" font-family='"Liberation Sans", sans-serif' textLength="26.97" lengthAdjust="spacingAndGlyphs" >1000</text>
<text x="51.6" y="439.8" font-size="13.6" text-anchor="middle" fill="#0d0d0d" stroke="#0d0d0d" stroke-width="0.15" font-family='"Liberation Serif", serif'>(b)</text>
<text x="191.2" y="442.4" font-size="11.3" fill="#0d0d0d" stroke="#0d0d0d" stroke-width="0.15" font-family='"Liberation Serif", serif'>Candidate index(sorted by <tspan font-style="italic">J</tspan> )</text>
<text transform="translate(26,314.5) rotate(-90)" font-size="11.8" text-anchor="middle" fill="#0d0d0d" stroke="#0d0d0d" stroke-width="0.15" font-family='"Liberation Serif", serif'>Composite score <tspan font-style="italic">J</tspan> (a.u. )</text>
<rect x="66.4" y="379.4" width="49" height="30.8" fill="none" stroke="#ff2020" stroke-width="1.1"/>
<polygon points="77.60,400.80 79.01,403.66 82.17,404.12 79.88,406.34 80.42,409.48 77.60,408.00 74.78,409.48 75.32,406.34 73.03,404.12 76.19,403.66" fill="red" stroke="yellow" stroke-width="1.0" stroke-linejoin="round"/>
<polygon points="92.60,394.80 94.01,397.66 97.17,398.12 94.88,400.34 95.42,403.48 92.60,402.00 89.78,403.48 90.32,400.34 88.03,398.12 91.19,397.66" fill="red" stroke="yellow" stroke-width="1.0" stroke-linejoin="round"/>
<polygon points="102.60,391.80 104.01,394.66 107.17,395.12 104.88,397.34 105.42,400.48 102.60,399.00 99.78,400.48 100.32,397.34 98.03,395.12 101.19,394.66" fill="red" stroke="yellow" stroke-width="1.0" stroke-linejoin="round"/>
<line x1="88.00" y1="379.40" x2="125.39" y2="336.67" stroke="red" stroke-width="1.1" stroke-dasharray="1.7,1.2"/>
<polygon points="130.00,331.40 128.10,339.04 122.68,334.30" fill="red"/>
<rect x="117.60" y="243.00" width="151.60" height="87.00" fill="#FEF0CC" stroke="#444444" stroke-width="1.1"/>
<line x1="117.60" y1="312.20" x2="269.20" y2="312.20" stroke="#c4c4c4" stroke-width="0.8" stroke-dasharray="1,1.2"/>
<line x1="117.60" y1="287.00" x2="269.20" y2="287.00" stroke="#c4c4c4" stroke-width="0.8" stroke-dasharray="1,1.2"/>
<line x1="117.60" y1="261.80" x2="269.20" y2="261.80" stroke="#c4c4c4" stroke-width="0.8" stroke-dasharray="1,1.2"/>
<line x1="157.20" y1="243.00" x2="157.20" y2="330.00" stroke="#c4c4c4" stroke-width="0.8" stroke-dasharray="1,1.2"/>
<line x1="197.60" y1="243.00" x2="197.60" y2="330.00" stroke="#c4c4c4" stroke-width="0.8" stroke-dasharray="1,1.2"/>
<line x1="238.00" y1="243.00" x2="238.00" y2="330.00" stroke="#c4c4c4" stroke-width="0.8" stroke-dasharray="1,1.2"/>
<polyline points="118.82,323.20 120.84,323.20 122.86,323.20 124.88,321.60 126.90,321.60 128.92,320.00 130.94,320.00 132.96,320.00 134.98,318.40 137.00,316.80 139.02,316.80 141.04,315.20 143.06,313.60 145.08,313.60 147.10,312.00 149.12,312.00 151.14,310.40 153.16,308.80 155.18,308.80 157.20,307.20 159.22,307.20 161.24,307.20 163.26,305.60 165.28,305.60 167.30,304.00 169.32,302.40 171.34,302.40 173.36,300.80 175.38,299.20 177.40,299.20 179.42,297.60 181.44,297.60 183.46,296.00 185.48,296.00 187.50,294.40 189.52,294.40 191.54,294.40 193.56,292.80 195.58,292.80 197.60,291.20 199.62,291.20 201.64,289.60 203.66,289.60 205.68,288.00 207.70,288.00 209.72,286.40 211.74,286.40 213.76,286.40 215.78,286.40 217.80,284.80 219.82,280.00 221.84,280.00 223.86,280.00 225.88,280.00 227.90,280.00 229.92,280.00 231.94,278.40 233.96,276.80 235.98,276.80 238.00,275.20 240.02,275.20 242.04,273.60 244.06,273.60 246.08,272.00 248.10,272.00 250.12,272.00 252.14,270.40 254.16,270.40 256.18,270.40 258.20,268.80 260.22,268.80 262.24,267.20 264.26,267.20 266.28,265.60 268.30,264.00" fill="none" stroke="#1f77b4" stroke-width="1.0"/>
<circle cx="118.82" cy="323.20" r="1.3" fill="#1f77b4"/>
<circle cx="120.84" cy="323.20" r="1.3" fill="#1f77b4"/>
<circle cx="122.86" cy="323.20" r="1.3" fill="#1f77b4"/>
<circle cx="124.88" cy="321.60" r="1.3" fill="#1f77b4"/>
<circle cx="126.90" cy="321.60" r="1.3" fill="#1f77b4"/>
<circle cx="128.92" cy="320.00" r="1.3" fill="#1f77b4"/>
<circle cx="130.94" cy="320.00" r="1.3" fill="#1f77b4"/>
<circle cx="132.96" cy="320.00" r="1.3" fill="#1f77b4"/>
<circle cx="134.98" cy="318.40" r="1.3" fill="#1f77b4"/>
<circle cx="137.00" cy="316.80" r="1.3" fill="#1f77b4"/>
<circle cx="139.02" cy="316.80" r="1.3" fill="#1f77b4"/>
<circle cx="141.04" cy="315.20" r="1.3" fill="#1f77b4"/>
<circle cx="143.06" cy="313.60" r="1.3" fill="#1f77b4"/>
<circle cx="145.08" cy="313.60" r="1.3" fill="#1f77b4"/>
<circle cx="147.10" cy="312.00" r="1.3" fill="#1f77b4"/>
<circle cx="149.12" cy="312.00" r="1.3" fill="#1f77b4"/>
<circle cx="151.14" cy="310.40" r="1.3" fill="#1f77b4"/>
<circle cx="153.16" cy="308.80" r="1.3" fill="#1f77b4"/>
<circle cx="155.18" cy="308.80" r="1.3" fill="#1f77b4"/>
<circle cx="157.20" cy="307.20" r="1.3" fill="#1f77b4"/>
<circle cx="159.22" cy="307.20" r="1.3" fill="#1f77b4"/>
<circle cx="161.24" cy="307.20" r="1.3" fill="#1f77b4"/>
<circle cx="163.26" cy="305.60" r="1.3" fill="#1f77b4"/>
<circle cx="165.28" cy="305.60" r="1.3" fill="#1f77b4"/>
<circle cx="167.30" cy="304.00" r="1.3" fill="#1f77b4"/>
<circle cx="169.32" cy="302.40" r="1.3" fill="#1f77b4"/>
<circle cx="171.34" cy="302.40" r="1.3" fill="#1f77b4"/>
<circle cx="173.36" cy="300.80" r="1.3" fill="#1f77b4"/>
<circle cx="175.38" cy="299.20" r="1.3" fill="#1f77b4"/>
<circle cx="177.40" cy="299.20" r="1.3" fill="#1f77b4"/>
<circle cx="179.42" cy="297.60" r="1.3" fill="#1f77b4"/>
<circle cx="181.44" cy="297.60" r="1.3" fill="#1f77b4"/>
<circle cx="183.46" cy="296.00" r="1.3" fill="#1f77b4"/>
<circle cx="185.48" cy="296.00" r="1.3" fill="#1f77b4"/>
<circle cx="187.50" cy="294.40" r="1.3" fill="#1f77b4"/>
<circle cx="189.52" cy="294.40" r="1.3" fill="#1f77b4"/>
<circle cx="191.54" cy="294.40" r="1.3" fill="#1f77b4"/>
<circle cx="193.56" cy="292.80" r="1.3" fill="#1f77b4"/>
<circle cx="195.58" cy="292.80" r="1.3" fill="#1f77b4"/>
<circle cx="197.60" cy="291.20" r="1.3" fill="#1f77b4"/>
<circle cx="199.62" cy="291.20" r="1.3" fill="#1f77b4"/>
<circle cx="201.64" cy="289.60" r="1.3" fill="#1f77b4"/>
<circle cx="203.66" cy="289.60" r="1.3" fill="#1f77b4"/>
<circle cx="205.68" cy="288.00" r="1.3" fill="#1f77b4"/>
<circle cx="207.70" cy="288.00" r="1.3" fill="#1f77b4"/>
<circle cx="209.72" cy="286.40" r="1.3" fill="#1f77b4"/>
<circle cx="211.74" cy="286.40" r="1.3" fill="#1f77b4"/>
<circle cx="213.76" cy="286.40" r="1.3" fill="#1f77b4"/>
<circle cx="215.78" cy="286.40" r="1.3" fill="#1f77b4"/>
<circle cx="217.80" cy="284.80" r="1.3" fill="#1f77b4"/>
<circle cx="219.82" cy="280.00" r="1.3" fill="#1f77b4"/>
<circle cx="221.84" cy="280.00" r="1.3" fill="#1f77b4"/>
<circle cx="223.86" cy="280.00" r="1.3" fill="#1f77b4"/>
<circle cx="225.88" cy="280.00" r="1.3" fill="#1f77b4"/>
<circle cx="227.90" cy="280.00" r="1.3" fill="#1f77b4"/>
<circle cx="229.92" cy="280.00" r="1.3" fill="#1f77b4"/>
<circle cx="231.94" cy="278.40" r="1.3" fill="#1f77b4"/>
<circle cx="233.96" cy="276.80" r="1.3" fill="#1f77b4"/>
<circle cx="235.98" cy="276.80" r="1.3" fill="#1f77b4"/>
<circle cx="238.00" cy="275.20" r="1.3" fill="#1f77b4"/>
<circle cx="240.02" cy="275.20" r="1.3" fill="#1f77b4"/>
<circle cx="242.04" cy="273.60" r="1.3" fill="#1f77b4"/>
<circle cx="244.06" cy="273.60" r="1.3" fill="#1f77b4"/>
<circle cx="246.08" cy="272.00" r="1.3" fill="#1f77b4"/>
<circle cx="248.10" cy="272.00" r="1.3" fill="#1f77b4"/>
<circle cx="250.12" cy="272.00" r="1.3" fill="#1f77b4"/>
<circle cx="252.14" cy="270.40" r="1.3" fill="#1f77b4"/>
<circle cx="254.16" cy="270.40" r="1.3" fill="#1f77b4"/>
<circle cx="256.18" cy="270.40" r="1.3" fill="#1f77b4"/>
<circle cx="258.20" cy="268.80" r="1.3" fill="#1f77b4"/>
<circle cx="260.22" cy="268.80" r="1.3" fill="#1f77b4"/>
<circle cx="262.24" cy="267.20" r="1.3" fill="#1f77b4"/>
<circle cx="264.26" cy="267.20" r="1.3" fill="#1f77b4"/>
<circle cx="266.28" cy="265.60" r="1.3" fill="#1f77b4"/>
<circle cx="268.30" cy="264.00" r="1.3" fill="#1f77b4"/>
<polygon points="124.60,318.10 125.75,320.42 128.31,320.79 126.45,322.60 126.89,325.16 124.60,323.95 122.31,325.16 122.75,322.60 120.89,320.79 123.45,320.42" fill="red" stroke="yellow" stroke-width="1.0" stroke-linejoin="round"/>
<polygon points="207.80,283.50 208.95,285.82 211.51,286.19 209.65,288.00 210.09,290.56 207.80,289.35 205.51,290.56 205.95,288.00 204.09,286.19 206.65,285.82" fill="red" stroke="yellow" stroke-width="1.0" stroke-linejoin="round"/>
<polygon points="258.40,265.30 259.55,267.62 262.11,267.99 260.25,269.80 260.69,272.36 258.40,271.15 256.11,272.36 256.55,269.80 254.69,267.99 257.25,267.62" fill="red" stroke="yellow" stroke-width="1.0" stroke-linejoin="round"/>
<rect x="117.60" y="243.00" width="151.60" height="87.00" fill="none" stroke="#444444" stroke-width="1.1"/>
<line x1="117.60" y1="312.20" x2="120.60" y2="312.20" stroke="#444" stroke-width="1.0"/>
<line x1="117.60" y1="287.00" x2="120.60" y2="287.00" stroke="#444" stroke-width="1.0"/>
<line x1="117.60" y1="261.80" x2="120.60" y2="261.80" stroke="#444" stroke-width="1.0"/>
<line x1="157.20" y1="330.00" x2="157.20" y2="327.00" stroke="#444" stroke-width="1.0"/>
<line x1="197.60" y1="330.00" x2="197.60" y2="327.00" stroke="#444" stroke-width="1.0"/>
<line x1="238.00" y1="330.00" x2="238.00" y2="327.00" stroke="#444" stroke-width="1.0"/>
<text x="114.20" y="315.49" font-size="7" text-anchor="end" fill="#333333" stroke="#333333" stroke-width="0" font-family='"Liberation Sans", sans-serif' textLength="18.89" lengthAdjust="spacingAndGlyphs" >0.044</text>
<text x="114.20" y="290.28" font-size="7" text-anchor="end" fill="#333333" stroke="#333333" stroke-width="0" font-family='"Liberation Sans", sans-serif' textLength="18.89" lengthAdjust="spacingAndGlyphs" >0.046</text>
<text x="114.20" y="265.08" font-size="7" text-anchor="end" fill="#333333" stroke="#333333" stroke-width="0" font-family='"Liberation Sans", sans-serif' textLength="18.89" lengthAdjust="spacingAndGlyphs" >0.048</text>
<text x="157.20" y="340.49" font-size="7" text-anchor="middle" fill="#333333" stroke="#333333" stroke-width="0" font-family='"Liberation Sans", sans-serif' textLength="8.40" lengthAdjust="spacingAndGlyphs" >20</text>
<text x="197.60" y="340.49" font-size="7" text-anchor="middle" fill="#333333" stroke="#333333" stroke-width="0" font-family='"Liberation Sans", sans-serif' textLength="8.40" lengthAdjust="spacingAndGlyphs" >40</text>
<text x="238.00" y="340.49" font-size="7" text-anchor="middle" fill="#333333" stroke="#333333" stroke-width="0" font-family='"Liberation Sans", sans-serif' textLength="8.40" lengthAdjust="spacingAndGlyphs" >60</text>
<text x="197" y="348.5" font-size="9.5" text-anchor="middle" fill="#1a1a1a" font-family='"Liberation Serif", serif'>idx</text>
<text transform="translate(93.5,280.5) rotate(-90)" font-size="9" text-anchor="middle" fill="#1a1a1a" font-family='"Liberation Serif", serif' font-style="italic">J</text>
<text x="196.3" y="239.8" font-size="9.5" text-anchor="middle" fill="#ff1a1a" font-weight="bold" font-family='"Liberation Serif", serif' textLength="59.3" lengthAdjust="spacingAndGlyphs">Zoomed Top-k</text>
<line x1="134.00" y1="294.00" x2="127.88" y2="310.83" stroke="red" stroke-width="1.0"/>
<polygon points="126.00,316.00 125.25,309.87 130.51,311.79" fill="red"/>
<line x1="198.40" y1="271.80" x2="201.10" y2="277.10" stroke="red" stroke-width="1.0"/>
<polygon points="203.60,282.00 198.61,278.37 203.60,275.83" fill="red"/>
<line x1="248.70" y1="259.80" x2="250.76" y2="261.50" stroke="red" stroke-width="1.0"/>
<polygon points="255.00,265.00 248.98,263.66 252.54,259.34" fill="red"/>
<rect x="120.40" y="279.00" width="45.20" height="15.00" fill="#FEEFCA" fill-opacity="0.96" stroke="#ff3b3b" stroke-width="1"/>
<text x="143.00" y="290.58" font-size="12" text-anchor="middle" fill="#000000" font-family='"Liberation Serif", serif' textLength="36.98" lengthAdjust="spacingAndGlyphs">144/169</text>
<rect x="152.60" y="257.20" width="45.80" height="14.80" fill="#FEEFCA" fill-opacity="0.96" stroke="#ff3b3b" stroke-width="1"/>
<text x="175.50" y="268.68" font-size="12" text-anchor="middle" fill="#000000" font-family='"Liberation Serif", serif' textLength="36.98" lengthAdjust="spacingAndGlyphs">145/171</text>
<rect x="203.60" y="245.40" width="45.10" height="14.40" fill="#FEEFCA" fill-opacity="0.96" stroke="#ff3b3b" stroke-width="1"/>
<text x="226.15" y="256.68" font-size="12" text-anchor="middle" fill="#000000" font-family='"Liberation Serif", serif' textLength="36.98" lengthAdjust="spacingAndGlyphs">146/171</text>
<rect x="31.9" y="465.0" width="457.20000000000005" height="261.29999999999995" fill="#ffffff"/>
<line x1="31.90" y1="722.70" x2="489.10" y2="722.70" stroke="#c4c4c4" stroke-width="0.8" stroke-dasharray="1,1.2"/>
<line x1="31.90" y1="682.68" x2="489.10" y2="682.68" stroke="#c4c4c4" stroke-width="0.8" stroke-dasharray="1,1.2"/>
<line x1="31.90" y1="642.66" x2="489.10" y2="642.66" stroke="#c4c4c4" stroke-width="0.8" stroke-dasharray="1,1.2"/>
<line x1="31.90" y1="602.64" x2="489.10" y2="602.64" stroke="#c4c4c4" stroke-width="0.8" stroke-dasharray="1,1.2"/>
<line x1="31.90" y1="562.62" x2="489.10" y2="562.62" stroke="#c4c4c4" stroke-width="0.8" stroke-dasharray="1,1.2"/>
<line x1="31.90" y1="522.60" x2="489.10" y2="522.60" stroke="#c4c4c4" stroke-width="0.8" stroke-dasharray="1,1.2"/>
<line x1="31.90" y1="482.58" x2="489.10" y2="482.58" stroke="#c4c4c4" stroke-width="0.8" stroke-dasharray="1,1.2"/>
<line x1="51.50" y1="465.00" x2="51.50" y2="726.30" stroke="#c4c4c4" stroke-width="0.8" stroke-dasharray="1,1.2"/>
<line x1="112.80" y1="465.00" x2="112.80" y2="726.30" stroke="#c4c4c4" stroke-width="0.8" stroke-dasharray="1,1.2"/>
<line x1="174.10" y1="465.00" x2="174.10" y2="726.30" stroke="#c4c4c4" stroke-width="0.8" stroke-dasharray="1,1.2"/>
<line x1="235.40" y1="465.00" x2="235.40" y2="726.30" stroke="#c4c4c4" stroke-width="0.8" stroke-dasharray="1,1.2"/>
<line x1="296.70" y1="465.00" x2="296.70" y2="726.30" stroke="#c4c4c4" stroke-width="0.8" stroke-dasharray="1,1.2"/>
<line x1="358.00" y1="465.00" x2="358.00" y2="726.30" stroke="#c4c4c4" stroke-width="0.8" stroke-dasharray="1,1.2"/>
<line x1="419.30" y1="465.00" x2="419.30" y2="726.30" stroke="#c4c4c4" stroke-width="0.8" stroke-dasharray="1,1.2"/>
<line x1="480.60" y1="465.00" x2="480.60" y2="726.30" stroke="#c4c4c4" stroke-width="0.8" stroke-dasharray="1,1.2"/>
<circle cx="56.80" cy="479.10" r="1.45" fill="#3fa4e6"/>
<circle cx="60.40" cy="479.10" r="1.45" fill="#3fa4e6"/>
<circle cx="64.00" cy="480.80" r="1.45" fill="#3fa4e6"/>
<circle cx="68.30" cy="484.90" r="1.45" fill="#3fa4e6"/>
<circle cx="56.30" cy="485.60" r="1.45" fill="#3fa4e6"/>
<circle cx="60.40" cy="493.30" r="1.45" fill="#3fa4e6"/>
<circle cx="68.30" cy="491.10" r="1.45" fill="#3fa4e6"/>
<circle cx="76.00" cy="486.80" r="1.45" fill="#3fa4e6"/>
<circle cx="76.00" cy="490.40" r="1.45" fill="#3fa4e6"/>
<circle cx="76.00" cy="494.00" r="1.45" fill="#3fa4e6"/>
<circle cx="60.40" cy="498.30" r="1.45" fill="#3fa4e6"/>
<circle cx="64.00" cy="500.00" r="1.45" fill="#3fa4e6"/>
<circle cx="73.60" cy="498.80" r="1.45" fill="#3fa4e6"/>
<circle cx="68.30" cy="507.70" r="1.45" fill="#3fa4e6"/>
<circle cx="76.00" cy="511.30" r="1.45" fill="#3fa4e6"/>
<circle cx="79.60" cy="519.20" r="1.45" fill="#3fa4e6"/>
<circle cx="88.00" cy="500.00" r="1.45" fill="#3fa4e6"/>
<circle cx="95.20" cy="500.00" r="1.45" fill="#3fa4e6"/>
<circle cx="103.60" cy="500.00" r="1.45" fill="#3fa4e6"/>
<circle cx="91.60" cy="504.80" r="1.45" fill="#3fa4e6"/>
<circle cx="101.20" cy="504.80" r="1.45" fill="#3fa4e6"/>
<circle cx="95.20" cy="514.40" r="1.45" fill="#3fa4e6"/>
<circle cx="91.60" cy="519.20" r="1.45" fill="#3fa4e6"/>
<circle cx="91.60" cy="525.20" r="1.45" fill="#3fa4e6"/>
<circle cx="88.00" cy="529.50" r="1.45" fill="#3fa4e6"/>
<circle cx="95.70" cy="533.60" r="1.45" fill="#3fa4e6"/>
<circle cx="100.00" cy="541.50" r="1.45" fill="#3fa4e6"/>
<circle cx="103.60" cy="543.20" r="1.45" fill="#3fa4e6"/>
<circle cx="115.60" cy="506.50" r="1.45" fill="#3fa4e6"/>
<circle cx="115.60" cy="513.20" r="1.45" fill="#3fa4e6"/>
<circle cx="115.60" cy="518.00" r="1.45" fill="#3fa4e6"/>
<circle cx="115.60" cy="523.30" r="1.45" fill="#3fa4e6"/>
<circle cx="115.60" cy="529.50" r="1.45" fill="#3fa4e6"/>
<circle cx="111.30" cy="534.30" r="1.45" fill="#3fa4e6"/>
<circle cx="111.30" cy="541.30" r="1.45" fill="#3fa4e6"/>
<circle cx="115.60" cy="549.20" r="1.45" fill="#3fa4e6"/>
<circle cx="115.60" cy="555.20" r="1.45" fill="#3fa4e6"/>
<circle cx="122.80" cy="508.40" r="1.45" fill="#3fa4e6"/>
<circle cx="122.80" cy="527.60" r="1.45" fill="#3fa4e6"/>
<circle cx="123.50" cy="558.30" r="1.45" fill="#3fa4e6"/>
<circle cx="131.20" cy="516.80" r="1.45" fill="#3fa4e6"/>
<circle cx="134.80" cy="514.40" r="1.45" fill="#3fa4e6"/>
<circle cx="134.80" cy="522.30" r="1.45" fill="#3fa4e6"/>
<circle cx="134.80" cy="527.60" r="1.45" fill="#3fa4e6"/>
<circle cx="131.20" cy="537.20" r="1.45" fill="#3fa4e6"/>
<circle cx="134.80" cy="539.60" r="1.45" fill="#3fa4e6"/>
<circle cx="138.90" cy="520.40" r="1.45" fill="#3fa4e6"/>
<circle cx="138.90" cy="534.80" r="1.45" fill="#3fa4e6"/>
<circle cx="138.90" cy="548.00" r="1.45" fill="#3fa4e6"/>
<circle cx="134.80" cy="552.80" r="1.45" fill="#3fa4e6"/>
<circle cx="134.80" cy="558.30" r="1.45" fill="#3fa4e6"/>
<circle cx="146.80" cy="521.60" r="1.45" fill="#3fa4e6"/>
<circle cx="150.90" cy="523.30" r="1.45" fill="#3fa4e6"/>
<circle cx="150.90" cy="529.50" r="1.45" fill="#3fa4e6"/>
<circle cx="146.80" cy="544.40" r="1.45" fill="#3fa4e6"/>
<circle cx="150.90" cy="552.80" r="1.45" fill="#3fa4e6"/>
<circle cx="157.60" cy="524.70" r="1.45" fill="#3fa4e6"/>
<circle cx="157.60" cy="534.80" r="1.45" fill="#3fa4e6"/>
<circle cx="157.60" cy="544.40" r="1.45" fill="#3fa4e6"/>
<circle cx="157.60" cy="556.40" r="1.45" fill="#3fa4e6"/>
<circle cx="174.00" cy="532.90" r="1.45" fill="#3fa4e6"/>
<circle cx="170.40" cy="535.30" r="1.45" fill="#3fa4e6"/>
<circle cx="166.30" cy="537.20" r="1.45" fill="#3fa4e6"/>
<circle cx="162.50" cy="540.30" r="1.45" fill="#3fa4e6"/>
<circle cx="174.00" cy="537.20" r="1.45" fill="#3fa4e6"/>
<circle cx="162.50" cy="546.10" r="1.45" fill="#3fa4e6"/>
<circle cx="174.00" cy="545.60" r="1.45" fill="#3fa4e6"/>
<circle cx="186.00" cy="539.60" r="1.45" fill="#3fa4e6"/>
<circle cx="193.70" cy="543.70" r="1.45" fill="#3fa4e6"/>
<circle cx="201.60" cy="545.60" r="1.45" fill="#3fa4e6"/>
<circle cx="193.70" cy="550.40" r="1.45" fill="#3fa4e6"/>
<circle cx="166.30" cy="554.00" r="1.45" fill="#3fa4e6"/>
<circle cx="198.00" cy="557.10" r="1.45" fill="#3fa4e6"/>
<circle cx="205.70" cy="555.90" r="1.45" fill="#3fa4e6"/>
<circle cx="217.70" cy="557.60" r="1.45" fill="#3fa4e6"/>
<circle cx="221.30" cy="555.20" r="1.45" fill="#3fa4e6"/>
<circle cx="193.70" cy="561.20" r="1.45" fill="#3fa4e6"/>
<circle cx="186.00" cy="563.60" r="1.45" fill="#3fa4e6"/>
<circle cx="174.00" cy="564.30" r="1.45" fill="#3fa4e6"/>
<circle cx="201.60" cy="564.30" r="1.45" fill="#3fa4e6"/>
<circle cx="232.80" cy="562.40" r="1.45" fill="#3fa4e6"/>
<circle cx="166.30" cy="567.20" r="1.45" fill="#3fa4e6"/>
<circle cx="170.40" cy="568.90" r="1.45" fill="#3fa4e6"/>
<circle cx="174.00" cy="570.80" r="1.45" fill="#3fa4e6"/>
<circle cx="162.50" cy="571.30" r="1.45" fill="#3fa4e6"/>
<circle cx="193.70" cy="567.20" r="1.45" fill="#3fa4e6"/>
<circle cx="221.30" cy="568.40" r="1.45" fill="#3fa4e6"/>
<circle cx="244.80" cy="567.70" r="1.45" fill="#3fa4e6"/>
<circle cx="252.70" cy="570.10" r="1.45" fill="#3fa4e6"/>
<circle cx="244.80" cy="574.40" r="1.45" fill="#3fa4e6"/>
<circle cx="241.20" cy="577.30" r="1.45" fill="#3fa4e6"/>
<circle cx="252.70" cy="578.00" r="1.45" fill="#3fa4e6"/>
<circle cx="232.80" cy="579.20" r="1.45" fill="#3fa4e6"/>
<circle cx="162.50" cy="577.30" r="1.45" fill="#3fa4e6"/>
<circle cx="186.00" cy="576.30" r="1.45" fill="#3fa4e6"/>
<circle cx="198.00" cy="575.60" r="1.45" fill="#3fa4e6"/>
<circle cx="150.70" cy="581.60" r="1.45" fill="#3fa4e6"/>
<circle cx="158.40" cy="585.20" r="1.45" fill="#3fa4e6"/>
<circle cx="166.30" cy="584.00" r="1.45" fill="#3fa4e6"/>
<circle cx="193.70" cy="585.90" r="1.45" fill="#3fa4e6"/>
<circle cx="205.70" cy="585.20" r="1.45" fill="#3fa4e6"/>
<circle cx="229.20" cy="583.50" r="1.45" fill="#3fa4e6"/>
<circle cx="201.60" cy="589.30" r="1.45" fill="#3fa4e6"/>
<circle cx="229.20" cy="590.00" r="1.45" fill="#3fa4e6"/>
<circle cx="268.10" cy="581.60" r="1.45" fill="#3fa4e6"/>
<circle cx="272.50" cy="583.20" r="1.45" fill="#3fa4e6"/>
<circle cx="276.30" cy="581.30" r="1.45" fill="#3fa4e6"/>
<circle cx="288.10" cy="588.00" r="1.45" fill="#3fa4e6"/>
<circle cx="303.70" cy="595.70" r="1.45" fill="#3fa4e6"/>
<circle cx="311.60" cy="597.60" r="1.45" fill="#3fa4e6"/>
<circle cx="272.50" cy="604.30" r="1.45" fill="#3fa4e6"/>
<circle cx="280.40" cy="601.70" r="1.45" fill="#3fa4e6"/>
<circle cx="291.90" cy="601.70" r="1.45" fill="#3fa4e6"/>
<circle cx="307.50" cy="604.30" r="1.45" fill="#3fa4e6"/>
<circle cx="268.40" cy="608.90" r="1.45" fill="#3fa4e6"/>
<circle cx="268.40" cy="615.10" r="1.45" fill="#3fa4e6"/>
<circle cx="272.50" cy="623.30" r="1.45" fill="#3fa4e6"/>
<circle cx="327.70" cy="609.60" r="1.45" fill="#3fa4e6"/>
<circle cx="339.20" cy="610.80" r="1.45" fill="#3fa4e6"/>
<circle cx="351.20" cy="618.00" r="1.45" fill="#3fa4e6"/>
<circle cx="323.60" cy="628.30" r="1.45" fill="#3fa4e6"/>
<circle cx="335.10" cy="627.60" r="1.45" fill="#3fa4e6"/>
<circle cx="351.20" cy="629.30" r="1.45" fill="#3fa4e6"/>
<circle cx="378.10" cy="629.30" r="1.45" fill="#3fa4e6"/>
<circle cx="131.20" cy="567.50" r="1.45" fill="#3fa4e6"/>
<circle cx="134.80" cy="569.40" r="1.45" fill="#3fa4e6"/>
<circle cx="138.90" cy="566.30" r="1.45" fill="#3fa4e6"/>
<circle cx="146.80" cy="574.90" r="1.45" fill="#3fa4e6"/>
<circle cx="174.00" cy="592.70" r="1.45" fill="#3fa4e6"/>
<circle cx="170.40" cy="595.10" r="1.45" fill="#3fa4e6"/>
<circle cx="174.00" cy="597.00" r="1.45" fill="#3fa4e6"/>
<circle cx="186.00" cy="602.30" r="1.45" fill="#3fa4e6"/>
<circle cx="217.70" cy="597.00" r="1.45" fill="#3fa4e6"/>
<circle cx="217.70" cy="603.00" r="1.45" fill="#3fa4e6"/>
<circle cx="221.30" cy="604.90" r="1.45" fill="#3fa4e6"/>
<circle cx="232.80" cy="598.20" r="1.45" fill="#3fa4e6"/>
<circle cx="232.80" cy="610.20" r="1.45" fill="#3fa4e6"/>
<circle cx="193.70" cy="609.50" r="1.45" fill="#3fa4e6"/>
<circle cx="201.60" cy="613.30" r="1.45" fill="#3fa4e6"/>
<circle cx="241.20" cy="608.30" r="1.45" fill="#3fa4e6"/>
<circle cx="244.80" cy="621.50" r="1.45" fill="#3fa4e6"/>
<circle cx="252.70" cy="619.80" r="1.45" fill="#3fa4e6"/>
<circle cx="252.70" cy="625.30" r="1.45" fill="#3fa4e6"/>
<circle cx="268.10" cy="632.50" r="1.45" fill="#3fa4e6"/>
<circle cx="280.40" cy="632.80" r="1.45" fill="#3fa4e6"/>
<circle cx="272.50" cy="639.30" r="1.45" fill="#3fa4e6"/>
<circle cx="276.30" cy="641.20" r="1.45" fill="#3fa4e6"/>
<circle cx="288.10" cy="646.50" r="1.45" fill="#3fa4e6"/>
<circle cx="291.90" cy="643.60" r="1.45" fill="#3fa4e6"/>
<circle cx="311.60" cy="635.20" r="1.45" fill="#3fa4e6"/>
<circle cx="315.70" cy="631.10" r="1.45" fill="#3fa4e6"/>
<circle cx="370.40" cy="633.50" r="1.45" fill="#3fa4e6"/>
<circle cx="311.60" cy="641.70" r="1.45" fill="#3fa4e6"/>
<circle cx="315.70" cy="649.60" r="1.45" fill="#3fa4e6"/>
<circle cx="303.70" cy="658.00" r="1.45" fill="#3fa4e6"/>
<circle cx="307.50" cy="655.60" r="1.45" fill="#3fa4e6"/>
<circle cx="311.60" cy="661.60" r="1.45" fill="#3fa4e6"/>
<circle cx="323.60" cy="658.50" r="1.45" fill="#3fa4e6"/>
<circle cx="327.70" cy="669.30" r="1.45" fill="#3fa4e6"/>
<circle cx="335.10" cy="668.80" r="1.45" fill="#3fa4e6"/>
<circle cx="335.10" cy="676.50" r="1.45" fill="#3fa4e6"/>
<circle cx="339.20" cy="678.40" r="1.45" fill="#3fa4e6"/>
<circle cx="351.20" cy="680.30" r="1.45" fill="#3fa4e6"/>
<circle cx="351.20" cy="683.90" r="1.45" fill="#3fa4e6"/>
<circle cx="358.90" cy="664.00" r="1.45" fill="#3fa4e6"/>
<circle cx="358.90" cy="670.00" r="1.45" fill="#3fa4e6"/>
<circle cx="362.70" cy="659.70" r="1.45" fill="#3fa4e6"/>
<circle cx="362.70" cy="677.20" r="1.45" fill="#3fa4e6"/>
<circle cx="370.40" cy="656.80" r="1.45" fill="#3fa4e6"/>
<circle cx="370.40" cy="685.60" r="1.45" fill="#3fa4e6"/>
<circle cx="370.40" cy="693.30" r="1.45" fill="#3fa4e6"/>
<circle cx="394.00" cy="641.10" r="1.45" fill="#3fa4e6"/>
<circle cx="421.60" cy="651.20" r="1.45" fill="#3fa4e6"/>
<circle cx="382.50" cy="656.50" r="1.45" fill="#3fa4e6"/>
<circle cx="398.10" cy="657.70" r="1.45" fill="#3fa4e6"/>
<circle cx="417.50" cy="661.30" r="1.45" fill="#3fa4e6"/>
<circle cx="441.30" cy="667.50" r="1.45" fill="#3fa4e6"/>
<circle cx="468.90" cy="676.40" r="1.45" fill="#3fa4e6"/>
<circle cx="382.50" cy="695.60" r="1.45" fill="#3fa4e6"/>
<circle cx="398.10" cy="706.40" r="1.45" fill="#3fa4e6"/>
<line x1="52" y1="490.4" x2="468.7" y2="715" stroke="#eaa01e" stroke-width="1.6"/>
<polygon points="52.50,472.50 53.65,474.82 56.21,475.19 54.35,477.00 54.79,479.56 52.50,478.35 50.21,479.56 50.65,477.00 48.79,475.19 51.35,474.82" fill="red" stroke="yellow" stroke-width="1.0" stroke-linejoin="round"/>
<polygon points="52.50,475.50 53.65,477.82 56.21,478.19 54.35,480.00 54.79,482.56 52.50,481.35 50.21,482.56 50.65,480.00 48.79,478.19 51.35,477.82" fill="red" stroke="yellow" stroke-width="1.0" stroke-linejoin="round"/>
<polygon points="52.50,480.00 53.65,482.32 56.21,482.69 54.35,484.50 54.79,487.06 52.50,485.85 50.21,487.06 50.65,484.50 48.79,482.69 51.35,482.32" fill="red" stroke="yellow" stroke-width="1.0" stroke-linejoin="round"/>
<line x1="78.50" y1="476.40" x2="62.90" y2="476.17" stroke="red" stroke-width="1.0"/>
<polygon points="57.90,476.10 62.93,473.77 62.86,478.57" fill="red"/>
<line x1="78.50" y1="491.50" x2="62.52" y2="483.94" stroke="red" stroke-width="1.0"/>
<polygon points="58.00,481.80 63.55,481.77 61.49,486.11" fill="red"/>
<line x1="78.50" y1="507.50" x2="62.01" y2="490.76" stroke="red" stroke-width="1.0"/>
<polygon points="58.50,487.20 63.72,489.08 60.30,492.45" fill="red"/>
<rect x="78.50" y="470.70" width="34.30" height="11.80" fill="#FEEFCA" fill-opacity="0.96" stroke="#ff3b3b" stroke-width="1"/>
<text x="95.65" y="479.66" font-size="9" text-anchor="middle" fill="#000000" font-family='"Liberation Serif", serif' textLength="27.73" lengthAdjust="spacingAndGlyphs">144/169</text>
<rect x="78.50" y="485.50" width="34.30" height="12.00" fill="#FEEFCA" fill-opacity="0.96" stroke="#ff3b3b" stroke-width="1"/>
<text x="95.65" y="494.56" font-size="9" text-anchor="middle" fill="#000000" font-family='"Liberation Serif", serif' textLength="27.73" lengthAdjust="spacingAndGlyphs">145/171</text>
<rect x="78.50" y="501.50" width="34.30" height="11.80" fill="#FEEFCA" fill-opacity="0.96" stroke="#ff3b3b" stroke-width="1"/>
<text x="95.65" y="510.46" font-size="9" text-anchor="middle" fill="#000000" font-family='"Liberation Serif", serif' textLength="27.73" lengthAdjust="spacingAndGlyphs">146/171</text>
<rect x="31.90" y="465.00" width="457.20" height="261.30" fill="none" stroke="#555555" stroke-width="1.5"/>
<line x1="31.90" y1="722.70" x2="35.40" y2="722.70" stroke="#555555" stroke-width="1.0"/>
<line x1="31.90" y1="682.68" x2="35.40" y2="682.68" stroke="#555555" stroke-width="1.0"/>
<line x1="31.90" y1="642.66" x2="35.40" y2="642.66" stroke="#555555" stroke-width="1.0"/>
<line x1="31.90" y1="602.64" x2="35.40" y2="602.64" stroke="#555555" stroke-width="1.0"/>
<line x1="31.90" y1="562.62" x2="35.40" y2="562.62" stroke="#555555" stroke-width="1.0"/>
<line x1="31.90" y1="522.60" x2="35.40" y2="522.60" stroke="#555555" stroke-width="1.0"/>
<line x1="31.90" y1="482.58" x2="35.40" y2="482.58" stroke="#555555" stroke-width="1.0"/>
<line x1="51.50" y1="726.30" x2="51.50" y2="722.80" stroke="#555555" stroke-width="1.0"/>
<line x1="112.80" y1="726.30" x2="112.80" y2="722.80" stroke="#555555" stroke-width="1.0"/>
<line x1="174.10" y1="726.30" x2="174.10" y2="722.80" stroke="#555555" stroke-width="1.0"/>
<line x1="235.40" y1="726.30" x2="235.40" y2="722.80" stroke="#555555" stroke-width="1.0"/>
<line x1="296.70" y1="726.30" x2="296.70" y2="722.80" stroke="#555555" stroke-width="1.0"/>
<line x1="358.00" y1="726.30" x2="358.00" y2="722.80" stroke="#555555" stroke-width="1.0"/>
<line x1="419.30" y1="726.30" x2="419.30" y2="722.80" stroke="#555555" stroke-width="1.0"/>
<line x1="480.60" y1="726.30" x2="480.60" y2="722.80" stroke="#555555" stroke-width="1.0"/>
<text x="29.00" y="725.80" font-size="9" text-anchor="end" fill="#111111" stroke="#111111" stroke-width="0.22" font-family='"Liberation Sans", sans-serif' textLength="4.83" lengthAdjust="spacingAndGlyphs" >0</text>
<text x="29.00" y="685.78" font-size="9" text-anchor="end" fill="#111111" stroke="#111111" stroke-width="0.22" font-family='"Liberation Sans", sans-serif' textLength="4.83" lengthAdjust="spacingAndGlyphs" >5</text>
<text x="29.00" y="645.76" font-size="9" text-anchor="end" fill="#111111" stroke="#111111" stroke-width="0.22" font-family='"Liberation Sans", sans-serif' textLength="9.67" lengthAdjust="spacingAndGlyphs" >10</text>
<text x="29.00" y="605.74" font-size="9" text-anchor="end" fill="#111111" stroke="#111111" stroke-width="0.22" font-family='"Liberation Sans", sans-serif' textLength="9.67" lengthAdjust="spacingAndGlyphs" >15</text>
<text x="29.00" y="565.72" font-size="9" text-anchor="end" fill="#111111" stroke="#111111" stroke-width="0.22" font-family='"Liberation Sans", sans-serif' textLength="9.67" lengthAdjust="spacingAndGlyphs" >20</text>
<text x="29.00" y="525.70" font-size="9" text-anchor="end" fill="#111111" stroke="#111111" stroke-width="0.22" font-family='"Liberation Sans", sans-serif' textLength="9.67" lengthAdjust="spacingAndGlyphs" >25</text>
<text x="29.00" y="485.68" font-size="9" text-anchor="end" fill="#111111" stroke="#111111" stroke-width="0.22" font-family='"Liberation Sans", sans-serif' textLength="9.67" lengthAdjust="spacingAndGlyphs" >30</text>
<text x="51.50" y="736.55" font-size="8.6" text-anchor="middle" fill="#111111" stroke="#111111" stroke-width="0.22" font-family='"Liberation Sans", sans-serif' textLength="29.03" lengthAdjust="spacingAndGlyphs" >0.0400</text>
<text x="112.80" y="736.55" font-size="8.6" text-anchor="middle" fill="#111111" stroke="#111111" stroke-width="0.22" font-family='"Liberation Sans", sans-serif' textLength="29.03" lengthAdjust="spacingAndGlyphs" >0.0425</text>
<text x="174.10" y="736.55" font-size="8.6" text-anchor="middle" fill="#111111" stroke="#111111" stroke-width="0.22" font-family='"Liberation Sans", sans-serif' textLength="29.03" lengthAdjust="spacingAndGlyphs" >0.0450</text>
<text x="235.40" y="736.55" font-size="8.6" text-anchor="middle" fill="#111111" stroke="#111111" stroke-width="0.22" font-family='"Liberation Sans", sans-serif' textLength="29.03" lengthAdjust="spacingAndGlyphs" >0.0475</text>
<text x="296.70" y="736.55" font-size="8.6" text-anchor="middle" fill="#111111" stroke="#111111" stroke-width="0.22" font-family='"Liberation Sans", sans-serif' textLength="29.03" lengthAdjust="spacingAndGlyphs" >0.0500</text>
<text x="358.00" y="736.55" font-size="8.6" text-anchor="middle" fill="#111111" stroke="#111111" stroke-width="0.22" font-family='"Liberation Sans", sans-serif' textLength="29.03" lengthAdjust="spacingAndGlyphs" >0.0525</text>
<text x="419.30" y="736.55" font-size="8.6" text-anchor="middle" fill="#111111" stroke="#111111" stroke-width="0.22" font-family='"Liberation Sans", sans-serif' textLength="29.03" lengthAdjust="spacingAndGlyphs" >0.0550</text>
<text x="480.60" y="736.55" font-size="8.6" text-anchor="middle" fill="#111111" stroke="#111111" stroke-width="0.22" font-family='"Liberation Sans", sans-serif' textLength="29.03" lengthAdjust="spacingAndGlyphs" >0.0575</text>
<text x="39.8" y="754.2" font-size="13.6" text-anchor="middle" fill="#0d0d0d" stroke="#0d0d0d" stroke-width="0.15" font-family='"Liberation Serif", serif'>(c)</text>
<text x="210.4" y="755.4" font-size="9.8" fill="#0d0d0d" stroke="#0d0d0d" stroke-width="0.15" font-family='"Liberation Serif", serif'>Composite score J(a.u.)</text>
<text transform="translate(11.6,598) rotate(-90)" font-size="11" text-anchor="middle" fill="#0d0d0d" stroke="#0d0d0d" stroke-width="0.15" font-family='"Liberation Serif", serif' font-style="italic">Estimated SNR at <tspan>f</tspan><tspan font-size="7" dy="1.5">*</tspan><tspan dy="-1.5" font-style="normal"> (a.u.)</tspan></text>
</svg></body></html>
